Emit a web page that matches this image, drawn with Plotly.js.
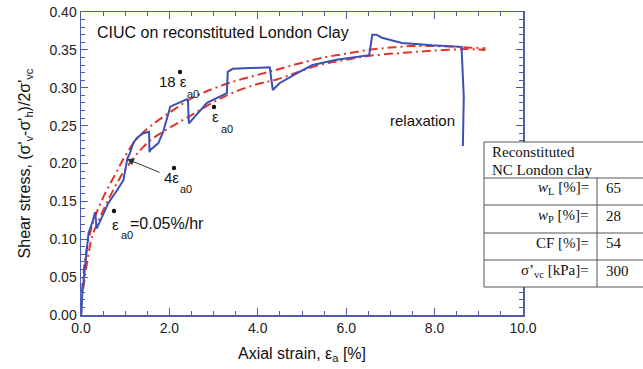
<!DOCTYPE html>
<html><head><meta charset="utf-8">
<script src="https://cdn.plot.ly/plotly-3.0.1.min.js"></script>
<style>html,body{margin:0;padding:0;background:#fff;}#chart{width:643px;height:369px;}</style>
</head><body><div id="chart"></div>
<script>
// Measured curve (blue)
var strainBlue = [0, 0.01, 0.03, 0.10, 0.17, 0.26, 0.32, 0.355, 0.48, 0.62, 0.82, 0.96, 1.00, 1.05, 1.11, 1.18, 1.27, 1.41, 1.54, 1.55, 1.57, 1.75, 1.86, 1.90, 2.02, 2.40, 2.42, 2.44, 2.85, 3.30, 3.32, 3.43, 4.27, 4.34, 4.49, 4.88, 5.24, 5.78, 6.23, 6.52, 6.59, 6.68, 6.81, 7.26, 7.94, 8.61, 8.66, 8.64];
var stressBlue = [0, 0.003, 0.029, 0.073, 0.108, 0.123, 0.136, 0.114, 0.129, 0.148, 0.165, 0.178, 0.191, 0.207, 0.214, 0.227, 0.234, 0.240, 0.242, 0.215, 0.218, 0.227, 0.242, 0.251, 0.275, 0.285, 0.284, 0.253, 0.280, 0.293, 0.321, 0.325, 0.327, 0.297, 0.306, 0.319, 0.330, 0.337, 0.341, 0.343, 0.370, 0.370, 0.366, 0.359, 0.356, 0.354, 0.288, 0.223];
// Fitted curve A (upper, red dash-dot)
var strainFitA = [0.02, 0.05, 0.1, 0.2, 0.3, 0.5, 0.75, 1.0, 1.3, 1.7, 2.0, 2.5, 3.0, 3.5, 4.0, 4.5, 5.0, 5.5, 6.0, 6.5, 7.0, 7.5, 8.0, 8.5, 9.15];
var stressFitA = [0.03, 0.05, 0.077, 0.107, 0.127, 0.155, 0.183, 0.210, 0.235, 0.255, 0.267, 0.286, 0.299, 0.309, 0.317, 0.325, 0.333, 0.340, 0.345, 0.350, 0.353, 0.355, 0.355, 0.354, 0.352];
// Fitted curve B (lower, red dash-dot)
var strainFitB = [0.05, 0.14, 0.26, 0.44, 0.6, 0.85, 1.0, 1.3, 1.6, 1.86, 2.47, 3.3, 4.0, 4.43, 5.39, 6.0, 6.5, 7.26, 8.0, 8.7, 9.15];
var stressFitB = [0.035, 0.07, 0.105, 0.13, 0.150, 0.178, 0.192, 0.215, 0.232, 0.242, 0.263, 0.290, 0.305, 0.311, 0.330, 0.337, 0.342, 0.346, 0.349, 0.351, 0.350];
// Table contents
var tableHeader = ["Reconstituted", "NC London clay"];
var tableLabels = ["<i>w</i><sub>L</sub> [%]=", "<i>w</i><sub>P</sub> [%]=", "CF [%]=", "σ’<sub>vc</sub> [kPa]="];
var tableValues = ["65", "28", "54", "300"];
var xTickVals = [0, 2, 4, 6, 8, 10];
var xTickText = ["0.0", "2.0", "4.0", "6.0", "8.0", "10.0"];
var yTickVals = [0, 0.05, 0.10, 0.15, 0.20, 0.25, 0.30, 0.35, 0.40];
var yTickText = ["0.00", "0.05", "0.10", "0.15", "0.20", "0.25", "0.30", "0.35", "0.40"];

var ML = 81, MR = 120, MT = 12, MB = 54, W = 643, H = 369;
var PW = W - ML - MR, PH = H - MT - MB;
function px(x) { return (x - ML) / PW; }
function py(y) { return (H - MB - y) / PH; }

var axisColor = '#4d5cb0';
var red = '#e3342b';
var blue = '#3c4fb4';
var sans = 'Liberation Sans, Arial, sans-serif';
var serif = 'Liberation Serif, Times New Roman, serif';

var traces = [
  {x: strainFitA, y: stressFitA, mode: 'lines', line: {color: red, width: 2, dash: '9px,4px,2px,4px', shape: 'spline'}, hoverinfo: 'skip'},
  {x: strainFitB, y: stressFitB, mode: 'lines', line: {color: red, width: 2, dash: '9px,4px,2px,4px', shape: 'spline'}, hoverinfo: 'skip'},
  {x: strainBlue, y: stressBlue, mode: 'lines', line: {color: blue, width: 2}, hoverinfo: 'skip'}
];

function txt(t, x, y, size, xanchor, font) {
  return {text: t, xref: 'paper', yref: 'paper', x: px(x), y: py(y), xanchor: xanchor || 'left', yanchor: 'middle', showarrow: false, font: {family: font || sans, size: size, color: '#111'}};
}

var ann = [
  txt('CIUC on reconstituted London Clay', 95, 32, 16),
  txt('18 ε', 157, 81, 15), txt('a0', 185, 94, 11),
  txt('ε', 215, 117, 15, 'center'), txt('a0', 219, 129, 11),
  txt('4ε', 162, 177, 15), txt('a0', 178, 189, 11),
  txt('ε', 115, 224, 15, 'center'), txt('a0', 119, 235, 11),
  txt('=0.05%/hr', 128, 223, 16),
  txt('relaxation', 388, 120, 15),
  {text: '', xref: 'paper', yref: 'paper', x: px(127), y: py(159), ax: 34, ay: 14, axref: 'pixel', ayref: 'pixel', showarrow: true, arrowhead: 2, arrowsize: 1.4, arrowwidth: 1, arrowcolor: '#333', standoff: 0}
];
ann.push(txt(tableHeader[0], 490, 152, 15, 'left', serif));
ann.push(txt(tableHeader[1], 490, 170, 15, 'left', serif));
var rowY = [188, 216, 243, 271];
for (var i = 0; i < tableLabels.length; i++) {
  ann.push(txt(tableLabels[i], 591, rowY[i], 15, 'right', serif));
  ann.push(txt(tableValues[i], 604, rowY[i], 15, 'left', serif));
}

var lc = {color: '#555', width: 1};
function hl(y) { return {type: 'line', xref: 'paper', yref: 'paper', x0: px(484), x1: px(643), y0: py(y), y1: py(y), line: lc}; }
function dot(x, y) { var r = 2.2; return {type: 'circle', xref: 'paper', yref: 'paper', x0: px(x - r), x1: px(x + r), y0: py(y + r), y1: py(y - r), fillcolor: '#111', line: {width: 0}}; }
var shapes = [
  {type: 'rect', xref: 'paper', yref: 'paper', x0: px(484), x1: px(645), y0: py(142), y1: py(287), fillcolor: '#fff', line: lc, layer: 'above'},
  hl(178), hl(205), hl(233), hl(260),
  {type: 'line', xref: 'paper', yref: 'paper', x0: px(597), x1: px(597), y0: py(178), y1: py(287), line: lc},
  dot(180, 72), dot(214, 107), dot(174, 168), dot(114, 211)
];

var layout = {
  width: W, height: H,
  margin: {l: ML, r: MR, t: MT, b: MB, pad: 0},
  paper_bgcolor: '#fff', plot_bgcolor: '#fff',
  showlegend: false,
  xaxis: {
    range: [0, 10], tickvals: xTickVals, ticktext: xTickText,
    showline: true, linecolor: axisColor, linewidth: 1.5, mirror: 'ticks',
    ticks: 'inside', ticklen: 7, tickcolor: axisColor, tickwidth: 1.2,
    minor: {dtick: 0.5, ticks: 'inside', ticklen: 4, tickcolor: axisColor, tickwidth: 1},
    showgrid: false, zeroline: false,
    tickfont: {family: sans, size: 14, color: '#222'},
    title: {text: 'Axial strain, ε<sub>a</sub> [%]', font: {family: sans, size: 16, color: '#111'}, standoff: 12}
  },
  yaxis: {
    range: [0, 0.40], tickvals: yTickVals, ticktext: yTickText,
    showline: true, linecolor: axisColor, linewidth: 1.5, mirror: 'ticks',
    ticks: 'inside', ticklen: 7, tickcolor: axisColor, tickwidth: 1.2,
    minor: {dtick: 0.01, ticks: 'inside', ticklen: 4, tickcolor: axisColor, tickwidth: 1},
    showgrid: false, zeroline: false,
    tickfont: {family: sans, size: 14, color: '#222'},
    title: {text: "Shear stress, (σ'<sub>v</sub>-σ'<sub>h</sub>)/2σ'<sub>vc</sub>", font: {family: sans, size: 16, color: '#111'}, standoff: 15}
  },
  annotations: ann,
  shapes: shapes
};

Plotly.newPlot('chart', traces, layout, {staticPlot: true, displayModeBar: false});
</script>
</body></html>
